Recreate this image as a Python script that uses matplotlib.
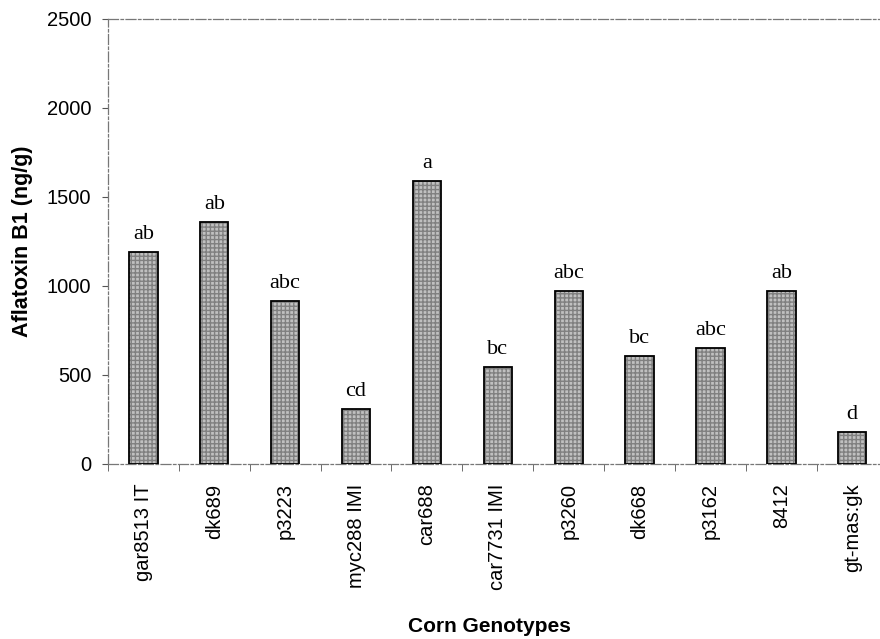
import matplotlib.pyplot as plt
import numpy as np

genotypes = ['gar8513 IT', 'dk689', 'p3223', 'myc288 IMI', 'car688', 'car7731 IMI',
             'p3260', 'dk668', 'p3162', '8412', 'gt-mas:gk']
aflatoxin = [1190, 1360, 915, 310, 1590, 545, 972, 605, 650, 972, 180]
groups = ['ab', 'ab', 'abc', 'cd', 'a', 'bc', 'abc', 'bc', 'abc', 'ab', 'd']
yticks = [0, 500, 1000, 1500, 2000, 2500]

plt.rcParams['font.family'] = ['Liberation Sans', 'DejaVu Sans']

fig = plt.figure(figsize=(8.8, 6.39), dpi=100)
# axes runs a bit past the right edge, like the scanned figure
ax = fig.add_axes([0.1227, 0.2739, 0.886, 0.6965])

x = np.arange(len(genotypes))
# stippled fill, then black outline on top
ax.bar(x, aflatoxin, width=0.4, color='#c0c0c0', edgecolor='#808080',
       hatch='++++', linewidth=0, zorder=2)
ax.bar(x, aflatoxin, width=0.4, color='none', edgecolor='black',
       linewidth=1.3, zorder=3)

for xi, v, g in zip(x, aflatoxin, groups):
    ax.text(xi, v + 45, g, ha='center', va='bottom', fontsize=16,
            family=['Liberation Serif', 'DejaVu Serif'])

ax.set_xlim(-0.5, len(genotypes) - 0.5)
ax.set_ylim(0, 2500)
ax.set_yticks(yticks)
ax.set_yticklabels([str(t) for t in yticks], fontsize=14.5)
ax.set_xticks(x)
ax.set_xticklabels(genotypes, rotation=90, fontsize=14.5)
ax.tick_params(axis='x', length=0, pad=14)
ax.set_xticks(np.arange(len(genotypes) + 1) - 0.5, minor=True)
ax.tick_params(axis='x', which='minor', length=5, color='#555555', direction='out')
ax.tick_params(axis='y', length=4, color='#555555', direction='out', pad=8)

for side in ['left', 'bottom', 'top']:
    ax.spines[side].set_color('#777777')
    ax.spines[side].set_linewidth(0.9)
    ax.spines[side].set_linestyle((0, (8, 2, 2, 2)))
ax.spines['right'].set_visible(False)

ax.set_ylabel('Aflatoxin B1 (ng/g)', fontsize=15.5, fontweight='bold', labelpad=10)
fig.text(0.556, 0.005, 'Corn Genotypes', ha='center', va='bottom',
         fontsize=15, fontweight='bold')

fig.savefig('out.png', dpi=100)
